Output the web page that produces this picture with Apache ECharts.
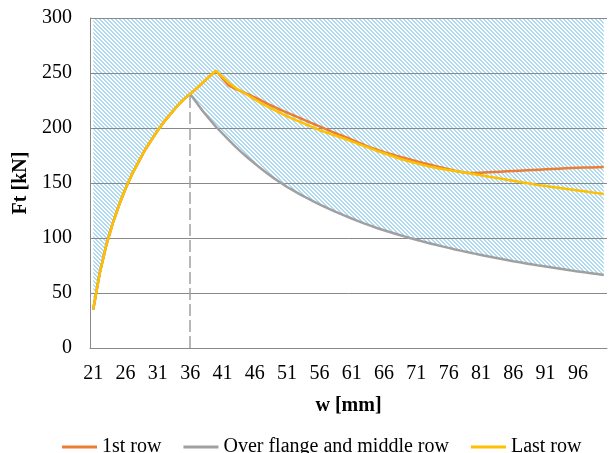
<!DOCTYPE html>
<html>
<head>
<meta charset="utf-8">
<script src="https://cdn.jsdelivr.net/npm/echarts@6/dist/echarts.min.js"></script>
<style>html,body{margin:0;padding:0;background:#fff}#c{width:609px;height:453px}</style>
</head>
<body>
<div id="c"></div>
<script>
// categories: w [mm]
const wValues = [21,22,23,24,25,26,27,28,29,30,31,32,33,34,35,36,37,38,39,40,41,42,43,44,45,46,47,48,49,50,
  51,52,53,54,55,56,57,58,59,60,61,62,63,64,65,66,67,68,69,70,71,72,73,74,75,76,77,78,79,80,
  81,82,83,84,85,86,87,88,89,90,91,92,93,94,95,96,97,98,99,100];

// shared rising part, w = 21..36
const rising = [35,68,93,113,130,145,158,169,180,189,198,206,213,220,226,231];

// w = 37..100
const firstRowTail = [236,241.5,247,252,245,238.5,235.5,233,230.5,227.8,225,222,219.3,216.5,214,211.5,209,206.5,204,201.5,
  199,196.5,194.2,192,189.5,187,184.5,182,180,178,176.3,174.6,173,171.4,169.8,168.3,166.8,165.3,163.9,162.5,
  161.2,160,159,159.1,159.4,159.7,160,160.3,160.6,160.9,161.2,161.5,161.8,162.1,162.4,162.7,163,163.3,163.6,163.8,
  164,164.2,164.4,164.6];
const overFlangeTail = [223,215,208,201,195,189,183,177.6,172.5,167.6,162.9,158.5,154.2,150.2,146.4,143,139.7,136.6,133.5,130.6,
  127.8,125.2,122.6,120.1,117.7,115.4,113.1,111,108.9,107,105.2,103.4,101.7,100,98.4,96.8,95.3,93.8,92.4,91,
  89.6,88.3,87,85.8,84.6,83.4,82.2,81.1,80,78.9,77.9,76.9,75.9,74.9,74,73.1,72.2,71.3,70.4,69.6,
  68.8,68,67.2,66.4];
const lastRowTail = [236,241.5,247,252,246.5,241,236.5,233,229.5,226,222.5,219.5,216.5,213.5,210.5,208,205.5,203,200.5,198,
  196,194,192,190,187.8,185.6,183.4,181.2,179,177,175,173,171.2,169.5,168,166.5,165,163.8,162.8,161.8,
  160.9,160,159,158,157,156,155,154,153,152,151,150,149,148,147.2,146.4,145.6,144.8,144,143.2,
  142.4,141.6,140.8,140];

const firstRow = rising.concat(firstRowTail);
const overFlange = rising.concat(overFlangeTail);
const lastRow = rising.concat(lastRowTail);

const seriesNames = ['1st row', 'Over flange and middle row', 'Last row'];
const yTicks = [0, 300, 50];
const peakW = 36;

// hatch pattern
const pc = document.createElement('canvas');
pc.width = 4; pc.height = 4;
const pctx = pc.getContext('2d');
pctx.fillStyle = '#ffffff';
pctx.fillRect(0,0,4,4);
pctx.fillStyle = '#addaf0';
for (let y = 0; y < 4; y++) for (let x = 0; x < 4; x++) {
  const d = ((x - y) % 4 + 4) % 4;
  if (d === 0 || d === 1) pctx.fillRect(x, y, 1, 1);
}

const font = 'Liberation Serif';
const chart = echarts.init(document.getElementById('c'), null, {renderer: 'canvas'});
const peakIdx = wValues.indexOf(peakW);
chart.setOption({
  animation: false,
  backgroundColor: '#ffffff',
  grid: {left: 90, right: 2, top: 18, bottom: 105, containLabel: false},
  legend: {
    data: seriesNames,
    left: 57, top: 432,
    icon: 'rect',
    itemWidth: 35, itemHeight: 3, itemGap: 22,
    textStyle: {fontFamily: font, fontSize: 20, color: '#000'}
  },
  xAxis: {
    type: 'category',
    data: wValues.map(String),
    boundaryGap: true,
    name: 'w [mm]', nameLocation: 'middle', nameGap: 48,
    nameTextStyle: {fontFamily: font, fontSize: 20, fontWeight: 'bold', color: '#000'},
    axisLine: {lineStyle: {color: '#898989', width: 1}},
    axisTick: {show: false},
    axisLabel: {interval: 4, fontFamily: font, fontSize: 20, color: '#000', margin: 16},
    z: 2
  },
  yAxis: {
    type: 'value', min: yTicks[0], max: yTicks[1], interval: yTicks[2],
    name: 'Ft [kN]', nameLocation: 'middle', nameGap: 54, nameRotate: 90,
    nameTextStyle: {fontFamily: font, fontSize: 20, fontWeight: 'bold', color: '#000'},
    axisLine: {show: true, lineStyle: {color: '#898989', width: 1}},
    axisTick: {show: false},
    axisLabel: {fontFamily: font, fontSize: 20, color: '#000', margin: 18},
    splitLine: {lineStyle: {color: '#898989', width: 1}},
    z: 2
  },
  series: [
    {
      name: 'hatch', type: 'line', data: overFlange, symbol: 'none',
      lineStyle: {width: 0, opacity: 0},
      areaStyle: {origin: 'end', color: {image: pc, repeat: 'repeat'}, opacity: 1},
      z: 1, silent: true, legendHoverLink: false
    },
    {
      name: seriesNames[0], type: 'line', data: firstRow, symbol: 'none',
      color: '#ED7D31', lineStyle: {color: '#ED7D31', width: 2.5}, z: 3
    },
    {
      name: seriesNames[1], type: 'line', data: overFlange, symbol: 'none',
      color: '#A0A0A0', lineStyle: {color: '#A0A0A0', width: 2.5}, z: 3,
      markLine: {
        silent: true, symbol: 'none',
        label: {show: false},
        lineStyle: {color: '#A0A0A0', type: [12, 4], width: 1.5},
        data: [[{coord: [String(peakW), 0]}, {coord: [String(peakW), overFlange[peakIdx]]}]]
      }
    },
    {
      name: seriesNames[2], type: 'line', data: lastRow, symbol: 'none',
      color: '#FFC000', lineStyle: {color: '#FFC000', width: 2.5}, z: 4
    }
  ]
});
</script>
</body>
</html>
